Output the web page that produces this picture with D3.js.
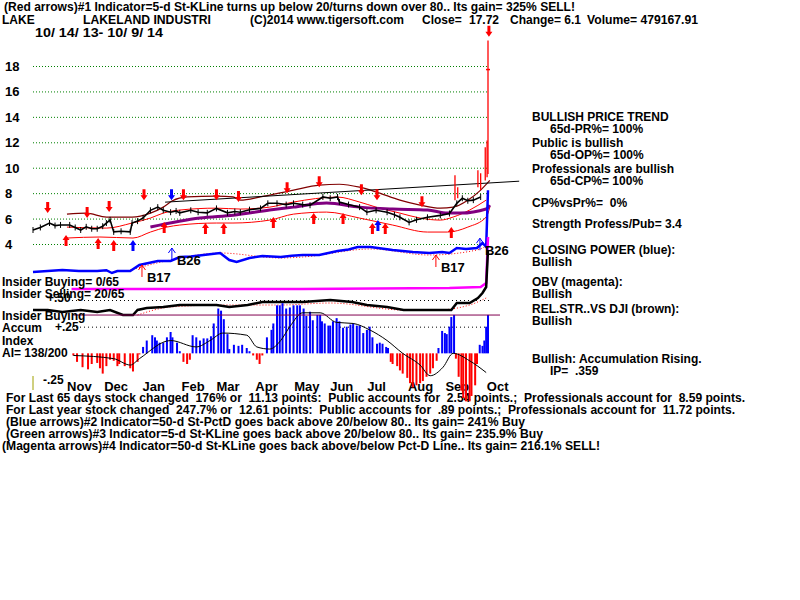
<!DOCTYPE html>
<html><head><meta charset="utf-8">
<script src="https://cdn.jsdelivr.net/npm/d3@7"></script>
<style>
body{margin:0;background:#fff;}
svg text{font-family:"Liberation Sans",Arial,sans-serif;font-weight:bold;font-size:12px;fill:#000;white-space:pre;}
</style></head><body>
<svg id="c" width="800" height="600"></svg>
<script>
// ---------- DATA ----------
const priceTicks = [4, 6, 8, 10, 12, 14, 16, 18];
const monthNames = ["Nov","Dec","Jan","Feb","Mar","Apr","May","Jun","Jul","Aug","Sep","Oct"];
const monthDays  = [25, 45, 65.5, 87, 106, 127, 149, 168, 187, 211, 231, 253];

// price (trading day index, close)
const priceSeries = [[0,5.1],[4,5.3],[9,5.65],[12,5.45],[15,5.5],[20,5.5],[23,5.3],[26,5.1],[29,5.35],[32,5.2],[35,5.2],[38,5.4],[40,5.65],[42,5.9],[44,4.95],[48,5.0],[53,4.95],[54,5.65],[57,5.8],[60,6.05],[64,6.65],[68,6.9],[71,6.65],[75,6.5],[78,6.6],[80,6.45],[86,6.65],[90,6.5],[95,6.45],[100,6.8],[106,6.45],[110,6.55],[113,6.5],[118,6.7],[124,6.8],[128,7.2],[133,7.2],[138,7.1],[142,7.2],[147,7.1],[151,7.05],[158,7.7],[162,7.6],[166,7.7],[167,7.3],[172,7.1],[178,6.9],[182,6.5],[187,6.65],[193,6.5],[197,6.3],[200,6.1],[205,5.7],[209,5.9],[215,6.1],[222,6.25],[227,6.4],[231,7.2],[234,7.6],[237,7.4],[240,7.45],[244,7.7]];
// final red price bars (day, high, low)
const redBars = [[230,9.4,7.45],[231.5,8.47,7.6],[242.5,9.8,8.47],[244,9.57,8.24],[246.5,11.6,9.0],[247.5,12.15,9.25],[248,20,9.5]];
const lastClose = [248, 17.72];

const upperBand = [[18.5,6.35],[29,6.43],[40,6.12],[54,6.12],[64,6.43],[71,6.9],[76,7.4],[84,7.7],[100,7.76],[109,7.7],[113,7.45],[124,7.7],[142,8.24],[156,8.63],[167,8.7],[178,8.47],[184,8.24],[189,8.0],[200,7.45],[211,7.06],[222,6.82],[229,6.9],[237,7.45],[244,8.24],[249,9.0]];
const middleBand = [[18.5,5.33],[40,5.25],[54,5.65],[64,6.04],[71,6.43],[80,6.67],[100,6.82],[113,6.75],[129,6.9],[142,7.3],[166,7.69],[178,7.3],[187,6.9],[200,6.43],[211,6.04],[222,5.88],[229,6.12],[238,6.67],[247,7.45]];
const lowerBand = [[18.5,4.47],[36.5,4.55],[54.5,4.47],[64,4.94],[73,5.33],[80,5.49],[100,5.65],[109,5.65],[129,5.88],[142,6.35],[160,6.51],[178,6.04],[196,5.49],[215,4.94],[226,4.94],[237,5.33],[247,6.12],[249,6.9]];
const purpleMA = [[64,5.33],[91,6.04],[109,6.27],[129,6.67],[142,6.9],[160,7.22],[178,6.9],[196,6.75],[215,6.67],[226,6.43],[233,6.43],[247,6.75],[249,7.06]];
const trendLine = [[72,7.29],[265,8.94]];

const redDownArrows = [[8,6.43],[29.5,6.04],[41.5,6.51],[60.5,7.45],[82,7.45],[100,7.45],[112,7.3],[138.5,8.0],[156,8.47],[179,7.84],[187.5,7.45],[212,6.9],[248.5,20.3]];
const blueDownArrows = [[75.5,7.45]];
const redUpArrows = [[18,4.71],[35.5,4.47],[44,4.31],[71.5,5.73],[94,5.65],[104,5.65],[131,6.12],[153,6.43],[169,6.43],[185,5.65],[192,5.65],[228,5.33]];
const blueUpArrows = [[54.5,4.31],[188,5.88]];

// closing power (arbitrary units)
const cpSeries = [[0,3.75],[8,5],[16,6.25],[25,5],[35,5],[40,6],[43,2.5],[46,5],[53,5],[58,12.5],[63,15],[68,17.5],[75,17.5],[80,22.5],[86,23],[93,25],[102,27.5],[107,18.75],[111,16.25],[118,21.25],[125,23.75],[135,22.5],[141,24],[147,25],[156,25],[166,30],[172,32],[177,35],[184,35],[190,33],[196,31.25],[207,28.75],[216,27.5],[223,28.75],[227,27.5],[231,33.75],[236,32.5],[242,33.75],[245,40],[247,35],[248,106]];
const cpMA = [[53,6.25],[75,18.75],[102,27.5],[135,21.25],[147,22.5],[184,32.5],[216,25],[242,31.25],[248,37.5]];
const bSignals = [
  {label:"B17", day:59.4, value:12.5, kind:"red"},
  {label:"B26", day:75.7, value:33.75, kind:"blue"},
  {label:"B17", day:219.6, value:25, kind:"red"},
  {label:"B26", day:243.6, value:46, kind:"blue"}
];
// OBV (arbitrary units)
const obvSeries = [[21,2],[146,2],[227,4],[244,6],[247,14],[248,106]];
// relative strength vs DJI (arbitrary units)
const rsSeries = [[0,20],[8,20],[16,16],[26,20],[35,16],[42,20],[49,10],[54.5,10],[57,20],[62,24],[71,26],[80,30],[89,30],[100,30],[107,26],[117,30],[125,36],[136,36],[147,36],[162,40],[174,36],[182,30],[193,26],[202,20],[211,20],[220,20],[228,20],[231,34],[238,34],[242.5,44],[245,54],[247,66],[248,140]];
const rsMA = [[57,10],[75,26],[104,30],[135,30],[162,34],[202,20],[220,20],[238,30],[247,44]];

// accumulation index
const aiTicks = [0.5, 0.25];
const aiTickLabels = ["+.50", "+.25", "-.25"];
const aiIP = 0.359;
const aiSeries = [[22,-0.02],[24,-0.08],[27,-0.13],[30,-0.15],[32,-0.10],[35,-0.09],[36.5,-0.14],[38,-0.19],[40,-0.12],[42,-0.06],[44,-0.07],[46,-0.12],[47,-0.10],[50,-0.12],[53,-0.14],[54.5,-0.17],[57,-0.08],[58,-0.01],[60,0.06],[62,0.12],[65,0.17],[66.5,0.15],[67.5,0.12],[69,0.10],[71,0.10],[73,0.15],[75,0.20],[76,0.15],[78.5,0.10],[80,0.02],[82,-0.08],[84,-0.10],[85.5,-0.06],[87,0.17],[89,0.15],[91,0.12],[93,0.14],[95,0.14],[97,0.16],[98.5,0.28],[101,0.42],[102.5,0.40],[104,0.32],[106,0.18],[107,0.04],[109.5,0.08],[112,0.07],[114,0.08],[116.5,0.05],[118,0.02],[120,-0.02],[122,-0.06],[123.5,-0.10],[125,-0.02],[127.5,0.15],[130,0.22],[131,0.28],[133,0.45],[134.5,0.45],[136,0.47],[138,0.42],[140,0.43],[142,0.45],[144,0.45],[145.5,0.45],[147.5,0.42],[149,0.35],[151,0.39],[152.5,0.31],[155,0.36],[156.5,0.36],[157.5,0.30],[159,0.28],[161,0.26],[162,0.26],[163.5,0.30],[165.5,0.33],[167,0.30],[169,0.24],[171,0.25],[173,0.27],[174.5,0.28],[176.5,0.26],[178,0.26],[180,0.19],[182,0.22],[183.5,0.25],[185,0.15],[187.5,0.09],[189,0.10],[190.5,0.09],[192.5,0.06],[193.5,0.05],[195,-0.08],[196,-0.10],[198.5,-0.12],[200,-0.16],[201.5,-0.19],[204,-0.23],[205.5,-0.28],[207,-0.32],[209,-0.30],[211,-0.28],[212.5,-0.26],[214.5,-0.22],[216.5,-0.19],[218,-0.14],[220,-0.07],[221,0.05],[223,0.21],[224.5,0.19],[225.5,0.18],[227,0.25],[228,0.34],[229.5,0.36],[230.5,-0.05],[232,-0.22],[233.5,-0.35],[234.5,-0.42],[236,-0.45],[238,-0.45],[239,-0.40],[241,-0.30],[242,-0.10],[243.5,0.08],[245,0.07],[246,0.12],[247,0.25],[248,0.36]];
const aiMA = [[22,-0.02],[44,-0.05],[53,-0.11],[58,-0.05],[75,0.12],[89,0.06],[96.5,0.12],[103.5,0.19],[116.5,0.17],[122,0.06],[129,0.04],[135,0.12],[140,0.25],[147,0.38],[156.5,0.38],[165.5,0.29],[174.5,0.28],[183.5,0.22],[193,0.12],[201.5,0],[211,-0.11],[216.5,-0.21],[223.5,-0.13],[229,0],[238,-0.07],[247,-0.18]];

// ---------- SCALES ----------
const svg = d3.select("#c");
const x = d3.scaleLinear().domain([0, 248]).range([33, 488]);
const yP = d3.scaleLinear().domain([4, 18]).range([244, 66]);
const yCP = d3.scaleLinear().domain([0, 100]).range([275, 195]);
const yOBV = d3.scaleLinear().domain([0, 100]).range([290, 240]);
const yRS = d3.scaleLinear().domain([0, 100]).range([320, 270]);
const yAI = d3.scaleLinear().domain([-0.25, 0.5]).range([380, 300]);

const line = (ys, curve) => d3.line().x(d => x(d[0])).y(d => ys(d[1])).curve(curve || d3.curveLinear);

// layers
const gridL = svg.append("g");
const underL = svg.append("g");
const pg = svg.append("g");
const lg = svg.append("g");
const ag = svg.append("g");
const overL = svg.append("g");

// ---------- PRICE PANEL ----------
const grid = gridL.append("g").attr("transform", "translate(33,0)")
  .call(d3.axisLeft(yP).tickValues(priceTicks).tickSize(-(488 - 33)).tickFormat(""));
grid.select(".domain").remove();
grid.selectAll("line").attr("stroke", "#008000").attr("stroke-dasharray", "1,2");

const yAx = gridL.append("g").attr("transform", "translate(5,0)")
  .call(d3.axisLeft(yP).tickValues(priceTicks).tickSize(0).tickFormat(d3.format("d")));
yAx.select(".domain").remove();
yAx.selectAll("text").attr("x", 0).attr("dy", "0.35em").attr("text-anchor", "start").style("font-size", "13px");

pg.append("path").datum(lowerBand).attr("d", line(yP, d3.curveMonotoneX)).attr("fill", "none").attr("stroke", "#ff0000").attr("stroke-width", 1);
pg.append("path").datum(middleBand).attr("d", line(yP, d3.curveMonotoneX)).attr("fill", "none").attr("stroke", "#ff0000").attr("stroke-width", 1);
pg.append("path").datum(upperBand).attr("d", line(yP, d3.curveMonotoneX)).attr("fill", "none").attr("stroke", "#800000").attr("stroke-width", 1.2);
pg.append("path").datum(purpleMA).attr("d", line(yP, d3.curveMonotoneX)).attr("fill", "none").attr("stroke", "#800080").attr("stroke-width", 3);
pg.append("path").datum(trendLine).attr("d", line(yP)).attr("fill", "none").attr("stroke", "#000").attr("stroke-width", 1);
pg.append("path").datum(priceSeries).attr("d", line(yP)).attr("fill", "none").attr("stroke", "#000").attr("stroke-width", 1.6);
pg.selectAll(".tick2").data(priceSeries).enter().append("line")
  .attr("x1", d => x(d[0])).attr("x2", d => x(d[0]))
  .attr("y1", d => yP(d[1]) - 3).attr("y2", d => yP(d[1]) + 3)
  .attr("stroke", "#000").attr("stroke-width", 1);
pg.selectAll(".rb").data(redBars).enter().append("line")
  .attr("x1", d => x(d[0])).attr("x2", d => x(d[0]))
  .attr("y1", d => yP(d[1])).attr("y2", d => yP(d[2]))
  .attr("stroke", "#ff0000").attr("stroke-width", 1.3);
pg.append("line").attr("x1", x(lastClose[0]) - 2).attr("x2", x(lastClose[0]) + 2)
  .attr("y1", yP(lastClose[1])).attr("y2", yP(lastClose[1])).attr("stroke", "#ff0000").attr("stroke-width", 1.5);

function arrowPath(cx, tip, dir) {
  const L = 11, H = 5, sw = 1.5, hw = 3.5;
  return `M${cx - sw},${tip - L * dir}L${cx + sw},${tip - L * dir}L${cx + sw},${tip - H * dir}L${cx + hw},${tip - H * dir}L${cx},${tip}L${cx - hw},${tip - H * dir}L${cx - sw},${tip - H * dir}Z`;
}
function drawArrows(data, dir, color) {
  pg.selectAll(null).data(data).enter().append("path")
    .attr("d", d => arrowPath(x(d[0]), yP(d[1]), dir)).attr("fill", color);
}
drawArrows(redDownArrows, 1, "#ff0000");
drawArrows(blueDownArrows, 1, "#0000ff");
drawArrows(redUpArrows, -1, "#ff0000");
drawArrows(blueUpArrows, -1, "#0000ff");

// ---------- CLOSING POWER / OBV / REL STR ----------
lg.append("path").datum(cpMA).attr("d", line(yCP, d3.curveMonotoneX)).attr("fill", "none").attr("stroke", "#ff0000").attr("stroke-dasharray", "1,2");
lg.append("path").datum(cpSeries).attr("d", line(yCP)).attr("fill", "none").attr("stroke", "#0000ff").attr("stroke-width", 2.5);
lg.append("path").datum(obvSeries).attr("d", line(yOBV)).attr("fill", "none").attr("stroke", "#ff00ff").attr("stroke-width", 2.5);
lg.append("path").datum(rsMA).attr("d", line(yRS, d3.curveMonotoneX)).attr("fill", "none").attr("stroke", "#ff0000").attr("stroke-dasharray", "1,2");
lg.append("path").datum(rsSeries).attr("d", line(yRS)).attr("fill", "none").attr("stroke", "#000").attr("stroke-width", 2.5);

bSignals.forEach(s => {
  const cx = x(s.day), tip = yCP(s.value);
  const col = s.kind === "red" ? "#ff0000" : "#0000ff";
  lg.append("path").attr("d", `M${cx},${tip + 12}L${cx},${tip}M${cx - 3.5},${tip + 5}L${cx},${tip}L${cx + 3.5},${tip + 5}`)
    .attr("fill", "none").attr("stroke", col).attr("stroke-width", 1);
  lg.append("text").attr("x", cx + 5).attr("y", tip + 17).text(s.label).style("font-size", "13px");
});

// ---------- ACCUMULATION INDEX ----------
const aiGrid = ag.append("g").attr("transform", "translate(72,0)")
  .call(d3.axisLeft(yAI).tickValues(aiTicks).tickSize(-(490 - 72)).tickFormat(""));
aiGrid.select(".domain").remove();
aiGrid.selectAll("line").attr("stroke", "#000").attr("stroke-dasharray", "1,3");
ag.selectAll(".aib").data(aiSeries).enter().append("rect")
  .attr("x", d => x(d[0]) - 1).attr("width", 2)
  .attr("y", d => Math.min(yAI(0), yAI(d[1])))
  .attr("height", d => Math.abs(yAI(d[1]) - yAI(0)))
  .attr("fill", d => d[1] >= 0 ? "#0000ff" : "#ff0000");
ag.append("path").datum(aiMA).attr("d", line(yAI, d3.curveMonotoneX)).attr("fill", "none").attr("stroke", "#000").attr("stroke-width", 1);
ag.append("line").attr("x1", x(22)).attr("x2", 500).attr("y1", yAI(aiIP)).attr("y2", yAI(aiIP)).attr("stroke", "#800050").attr("stroke-width", 1);
ag.append("line").attr("x1", 33).attr("x2", 33).attr("y1", 376).attr("y2", 390).attr("stroke", "#a0a000");

// month axis (drawn beneath the bars, as in the reference)
const mx = underL.append("g").attr("transform", "translate(0,380)")
  .call(d3.axisBottom(x).tickValues(monthDays).tickSize(0).tickFormat((d, i) => monthNames[i]));
mx.select(".domain").remove();
mx.selectAll("text").attr("y", 11).attr("dy", 0).attr("text-anchor", "middle").style("font-size", "13px");

// ---------- TEXTS ----------
function t(layer, xp, yp, s, len, size) {
  const e = layer.append("text").attr("x", xp).attr("y", yp).text(s);
  if (len) e.attr("textLength", len).attr("lengthAdjust", "spacingAndGlyphs");
  if (size) e.style("font-size", size + "px");
  return e;
}
t(overL, 4, 11, "(Red arrows)#1 Indicator=5-d St-KLine turns up below 20/turns down over 80.. Its gain= 325% SELL!", 571);
t(overL, 2, 24, "LAKE");
t(overL, 83, 24, "LAKELAND INDUSTRI", 128);
t(overL, 250, 24, "(C)2014 www.tigersoft.com", 154);
t(overL, 422, 24, "Close=");
t(overL, 469, 24, "17.72");
t(overL, 510, 24, "Change= 6.1");
t(overL, 587, 24, "Volume= 479167.91", 111);
t(overL, 35, 37, "10/ 14/ 13- 10/ 9/ 14", 128);

t(overL, 532, 121, "BULLISH PRICE TREND");
t(overL, 550, 133, "65d-PR%= 100%");
t(overL, 532, 147, "Public is bullish");
t(overL, 550, 159, "65d-OP%= 100%");
t(overL, 532, 173, "Professionals are bullish");
t(overL, 550, 185, "65d-CP%= 100%");
t(overL, 532, 207, "CP%vsPr%=  0%");
t(overL, 532, 228, "Strength Profess/Pub= 3.4");
t(overL, 532, 254, "CLOSING POWER (blue):");
t(overL, 532, 266, "Bullish");
t(overL, 532, 286, "OBV (magenta):");
t(overL, 532, 298, "Bullish");
t(overL, 532, 313, "REL.STR..VS DJI (brown):");
t(overL, 532, 325, "Bullish");
t(overL, 532, 363, "Bullish: Accumulation Rising.");
t(overL, 550, 375, "IP=  .359");

t(overL, 2, 286, "Insider Buying= 0/65");
t(overL, 2, 298, "Insider Selling= 20/65");
t(overL, 47, 302, aiTickLabels[0]);
t(overL, 2, 320, "Insider Buying");
t(overL, 2, 332, "Accum");
t(overL, 55, 331, aiTickLabels[1]);
t(overL, 2, 345, "Index");
t(overL, 2, 357, "AI= 138/200");
t(overL, 43, 384, aiTickLabels[2]);

t(underL, 6, 402, "For Last 65 days stock changed  176% or  11.13 points:  Public accounts for  2.54 points.;  Professionals account for  8.59 points.", 739);
t(overL, 6, 414, "For Last year stock changed  247.7% or  12.61 points:  Public accounts for  .89 points.;  Professionals account for  11.72 points.", 729);
t(overL, 6, 426, "(Blue arrows)#2 Indicator=50-d St-PctD goes back above 20/below 80.. Its gain= 241% Buy", 519);
t(overL, 6, 438, "(Green arrows)#3 Indicator=5-d St-KLine goes back above 20/below 80.. Its gain= 235.9% Buy", 537);
t(overL, 2, 450, "(Magenta arrows)#4 Indicator=50-d St-KLine goes back above/below Pct-D Line.. Its gain= 216.1% SELL!", 598);
</script></body></html>
